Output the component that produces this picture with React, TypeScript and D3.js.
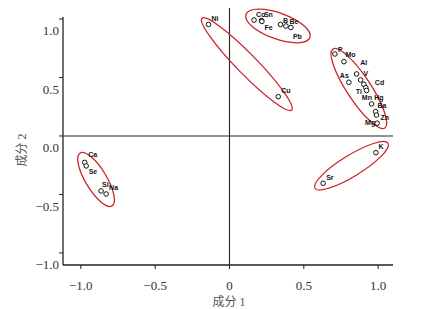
import React from "react";
import * as d3 from "d3";

// Component loadings (成分 1, 成分 2)
const names = ["Ni", "Cu", "Co", "Sn", "Fe", "B", "Be", "Pb", "P", "Mo", "Al", "As", "V", "Cd", "Ti", "Mn", "Hg", "Ba", "Zn", "Mg", "K", "Sr", "Ca", "Se", "Si", "Na"];
const comp1 = [-0.141, 0.328, 0.165, 0.215, 0.218, 0.343, 0.38, 0.413, 0.709, 0.77, 0.855, 0.803, 0.882, 0.904, 0.917, 0.922, 0.956, 0.983, 0.989, 0.993, 0.985, 0.63, -0.974, -0.964, -0.864, -0.83];
const comp2 = [0.953, 0.336, 0.991, 0.987, 0.979, 0.953, 0.94, 0.927, 0.701, 0.635, 0.53, 0.459, 0.479, 0.442, 0.413, 0.389, 0.274, 0.208, 0.179, 0.109, -0.143, -0.404, -0.226, -0.256, -0.47, -0.496];

// label placement (pixel offsets from point, text start / baseline)
const labelDx = [3, 3, 2, 2.5, 2.5, 2.5, 3.5, 2, 3, 1.5, 3.6, -9, 3, 11, -10, -4.7, 2.6, 1.8, 4, -12, 2.5, 3, 3.5, 2.5, 1, 3];
const labelDy = [-3, -4, -3, -3.5, 9, -1.5, -2, 11, -2, -5, -9, -3.8, -4, 0.7, 6, 10, -4, -3.7, 5, 1.7, -3.7, -3.3, -5, 8.5, -3.5, -4];

// grouping ellipses: two end points of the major axis in data units
const ellipseX1 = [-0.185, 0.111, 0.696, 0.575, -1.005];
const ellipseY1 = [1.006, 1.039, 0.744, -0.447, -0.145];
const ellipseX2 = [0.418, 0.541, 1.045, 1.067, -0.79];
const ellipseY2 = [0.222, 0.841, 0.068, -0.062, -0.598];
const ellipseMinor = [10, 13, 12, 10.5, 10.5];

const tickValues = [-1, -0.5, 0, 0.5, 1];
const xTickLabels = ["\u22121.0", "\u22120.5", "0", "0.5", "1.0"];
const yTickLabels = ["\u22121.0", "\u22120.5", "0.0", "0.5", "1.0"];

const W = 439;
const H = 309;
const left = 63, right = 393, top = 17, bottom = 265;

export default function App() {
  const x = d3.scaleLinear().domain([-1.12, 1.1]).range([left, right]);
  const y = d3.scaleLinear().domain([-1.103, 1.017]).range([bottom, top]);
  const serif = "'Liberation Serif', 'Times New Roman', serif";
  const cjk = "'Noto Sans CJK SC', sans-serif";

  return (
    <svg width={W} height={H} style={{ position: "absolute", left: 0, top: 0, background: "#fff" }}>
      <rect x={0} y={0} width={W} height={H} fill="#fff" />
      {/* reference lines */}
      <line x1={x(0)} x2={x(0)} y1={8} y2={bottom} stroke="#222" strokeWidth={1.1} />
      <line x1={left} x2={right} y1={y(0)} y2={y(0)} stroke="#222" strokeWidth={1.1} />
      {/* axes */}
      <line x1={left} x2={left} y1={top} y2={bottom} stroke="#222" strokeWidth={1.3} />
      <line x1={left} x2={right} y1={bottom} y2={bottom} stroke="#222" strokeWidth={1.3} />
      {tickValues.map((v, i) => (
        <g key={"xt" + i}>
          <line x1={x(v)} x2={x(v)} y1={bottom} y2={bottom + 4} stroke="#222" strokeWidth={1} />
          <text x={x(v)} y={290} textAnchor="middle" fontFamily={serif} fontSize={13} fill="#333">
            {xTickLabels[i]}
          </text>
        </g>
      ))}
      {tickValues.map((v, i) => (
        <g key={"yt" + i}>
          <line x1={left - 4} x2={left} y1={y(v)} y2={y(v)} stroke="#222" strokeWidth={1} />
          <text x={59} y={y(v) + 16.5} textAnchor="end" fontFamily={serif} fontSize={13} fill="#333">
            {yTickLabels[i]}
          </text>
        </g>
      ))}
      <text x={229} y={306} textAnchor="middle" fontSize={12} fill="#555">
        <tspan fontFamily={cjk}>成分</tspan>
        <tspan fontFamily={serif}> 1</tspan>
      </text>
      <text transform="translate(26,150) rotate(-90)" textAnchor="middle" fontSize={12} fill="#555">
        <tspan fontFamily={cjk}>成分</tspan>
        <tspan fontFamily={serif}> 2</tspan>
      </text>
      {/* ellipses */}
      {ellipseX1.map((_, i) => {
        const px1 = x(ellipseX1[i]), py1 = y(ellipseY1[i]);
        const px2 = x(ellipseX2[i]), py2 = y(ellipseY2[i]);
        const cx = (px1 + px2) / 2, cy = (py1 + py2) / 2;
        const rx = Math.hypot(px2 - px1, py2 - py1) / 2;
        const ang = (Math.atan2(py2 - py1, px2 - px1) * 180) / Math.PI;
        return (
          <ellipse
            key={"e" + i}
            cx={0}
            cy={0}
            rx={rx}
            ry={ellipseMinor[i]}
            transform={`translate(${cx},${cy}) rotate(${ang})`}
            fill="none"
            stroke="#cc2229"
            strokeWidth={1.3}
          />
        );
      })}
      {/* points */}
      {names.map((n, i) => (
        <g key={n}>
          <circle cx={x(comp1[i])} cy={y(comp2[i])} r={2.3} fill="#fff" stroke="#111" strokeWidth={1} />
          <text
            x={x(comp1[i]) + labelDx[i]}
            y={y(comp2[i]) + labelDy[i]}
            fontFamily="'Liberation Sans', Arial, sans-serif"
            fontWeight="bold"
            fontSize={7}
            fill="#111"
          >
            {n}
          </text>
        </g>
      ))}
    </svg>
  );
}
